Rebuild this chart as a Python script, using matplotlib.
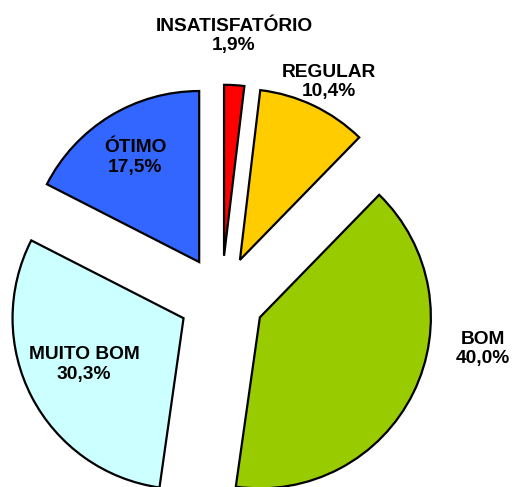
import matplotlib
matplotlib.use("Agg")
import matplotlib.pyplot as plt

categories = ["INSATISFATÓRIO", "REGULAR", "BOM", "MUITO BOM", "ÓTIMO"]
values = [1.9, 10.4, 40.0, 30.3, 17.5]
value_labels = ["1,9%", "10,4%", "40,0%", "30,3%", "17,5%"]

colors = ["#FF0000", "#FFCC00", "#99CC00", "#CCFFFF", "#3366FF"]
# label block centres (in pie-radius units, pie centre at origin)
label_pos = [(0.073, 1.535), (0.629, 1.265), (1.529, -0.295), (-0.804, -0.385), (-0.506, 0.825)]

fig = plt.figure(figsize=(5.12, 4.87), dpi=100)
ax = fig.add_axes([0, 0, 1, 1])
ax.pie(values, colors=colors, explode=[0.25] * len(values), startangle=90,
       counterclock=False, radius=1, center=(0, 0),
       wedgeprops=dict(edgecolor="black", linewidth=1.6), frame=False)
ax.set_xlim(-221.5 / 171, (512 - 221.5) / 171)
ax.set_ylim((298.5 - 487) / 171, 298.5 / 171)
ax.set_aspect("equal")
ax.axis("off")

for cat, vl, (x, y) in zip(categories, value_labels, label_pos):
    ax.text(x, y, f"{cat}\n{vl}", ha="center", va="center", fontsize=13.8,
            fontweight="bold", family="Liberation Sans", linespacing=1.2,
            color="black")

fig.savefig("out.png", dpi=100)
